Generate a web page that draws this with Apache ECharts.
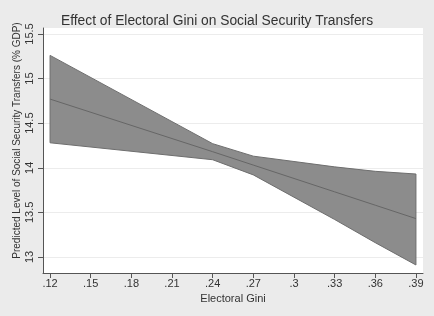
<!DOCTYPE html>
<html lang="en">
<head>
    <meta charset="UTF-8">
    <title>Effect of Electoral Gini on Social Security Transfers</title>
    <script src="https://cdn.jsdelivr.net/npm/echarts@6.0.0/dist/echarts.min.js"></script>
    <style>
        html, body { margin: 0; padding: 0; background: #ebebeb; }
        #chart { width: 434px; height: 316px; }
    </style>
</head>
<body>
    <div id="chart"></div>
    <script>
        // Data
        var gini = [0.12, 0.24, 0.27, 0.30, 0.33, 0.36, 0.39];
        var upper = [15.26, 14.27, 14.13, 14.07, 14.01, 13.96, 13.93];
        var fitted = [14.77, 14.18, 14.03, 13.88, 13.73, 13.58, 13.43];
        var lower = [14.28, 14.09, 13.92, 13.67, 13.42, 13.16, 12.91];
        var xTicks = [0.12, 0.15, 0.18, 0.21, 0.24, 0.27, 0.30, 0.33, 0.36, 0.39];
        var yTicks = [13, 13.5, 14, 14.5, 15, 15.5];

        var chart = echarts.init(document.getElementById('chart'));
        var font = 'Liberation Sans, Arial, sans-serif';

        var fitData = gini.map(function (x, i) { return [x, fitted[i]]; });

        var option = {
            backgroundColor: '#ebebeb',
            animation: false,
            title: {
                text: 'Effect of Electoral Gini on Social Security Transfers',
                left: 'center',
                top: 9,
                textStyle: { fontFamily: font, fontSize: 13.8, fontWeight: 'normal', color: '#333' }
            },
            grid: {
                left: 43, right: 11, top: 28, bottom: 43,
                show: true, backgroundColor: '#fff', borderWidth: 0
            },
            xAxis: {
                type: 'value',
                min: 0.1148, max: 0.3952,
                name: 'Electoral Gini',
                nameLocation: 'middle',
                nameGap: 17,
                nameTextStyle: { fontFamily: font, fontSize: 11, color: '#333' },
                axisLine: { show: true, lineStyle: { color: '#555' } },
                axisTick: { show: true, length: 5, customValues: xTicks, lineStyle: { color: '#555' } },
                axisLabel: {
                    customValues: xTicks,
                    margin: 5,
                    fontFamily: font, fontSize: 11, color: '#333',
                    formatter: function (v) { return String(+v.toFixed(2)).replace(/^0/, ''); }
                },
                splitLine: { show: false }
            },
            yAxis: {
                type: 'value',
                min: 12.82, max: 15.567,
                name: 'Predicted Level of Social Security Transfers (% GDP)',
                nameLocation: 'middle',
                nameRotate: 90,
                nameGap: 21,
                nameMoveOverlap: false,
                nameTextStyle: { fontFamily: font, fontSize: 10, color: '#333', padding: [0, 0, 0, 20] },
                axisLine: { show: true, lineStyle: { color: '#555' } },
                axisTick: { show: true, length: 5, customValues: yTicks, lineStyle: { color: '#555' } },
                axisLabel: {
                    customValues: yTicks,
                    rotate: 90,
                    margin: 8,
                    fontFamily: font, fontSize: 11, color: '#333'
                },
                splitLine: { show: true, lineStyle: { color: '#ececec', width: 1 } }
            },
            series: [
                {
                    // confidence band drawn as one polygon
                    type: 'custom',
                    data: [0],
                    silent: true,
                    renderItem: function (params, api) {
                        var pts = [];
                        for (var i = 0; i < gini.length; i++) pts.push(api.coord([gini[i], upper[i]]));
                        for (var j = gini.length - 1; j >= 0; j--) pts.push(api.coord([gini[j], lower[j]]));
                        return {
                            type: 'polygon',
                            shape: { points: pts },
                            style: { fill: '#8c8c8c', stroke: '#6e6e6e', lineWidth: 1 }
                        };
                    },
                    z: 2
                },
                {
                    type: 'line',
                    data: fitData,
                    showSymbol: false,
                    lineStyle: { color: '#666', width: 1 },
                    z: 3
                }
            ]
        };

        chart.setOption(option);
    </script>
</body>
</html>
